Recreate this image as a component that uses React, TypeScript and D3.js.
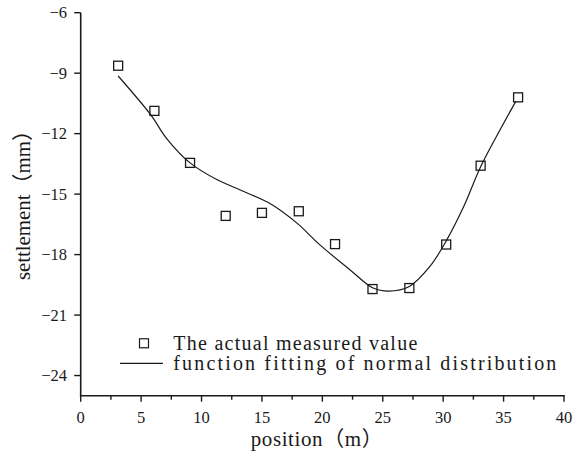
import React from "react";
import * as d3 from "d3";

const measuredX = [3.1, 6.1, 9.05, 12.0, 15.0, 18.05, 21.05, 24.15, 27.2, 30.25, 33.1, 36.2];
const measuredY = [-8.63, -10.87, -13.45, -16.08, -15.93, -15.85, -17.48, -19.71, -19.66, -17.5, -13.59, -10.2];

const fitX = [3.1, 5.8, 7.1, 9.05, 11.3, 13.5, 15.7, 17.9, 19.8, 22.3, 24.2, 25.5, 27.2, 28.9, 30.3, 31.7, 33.1, 34.7, 36.0];
const fitY = [-9.14, -11.07, -12.23, -13.45, -14.29, -14.87, -15.48, -16.44, -17.52, -18.76, -19.66, -19.81, -19.58, -18.59, -17.27, -15.62, -13.64, -11.82, -10.41];

const xTicks = [0, 5, 10, 15, 20, 25, 30, 35, 40];
const xMinorTicks = [2.5, 7.5, 12.5, 17.5, 22.5, 27.5, 32.5, 37.5];
const yTicks = [-24, -21, -18, -15, -12, -9, -6];

const legendLabels = ["The actual measured value", "function fitting of normal distribution"];
const xTitle = "position（m）";
const yTitle = "settlement（mm）";

const W = 583;
const H = 455;
const FONT = "'Liberation Serif', 'Noto Sans CJK SC', serif";
const INK = "#1a1a1a";

export default function App() {
  const x = d3.scaleLinear().domain([0, 40]).range([80.7, 564]);
  const y = d3.scaleLinear().domain([-25, -6]).range([395.7, 12.7]);
  const x0 = x(0);
  const yb = y(-25);

  const fitPts = fitX.map((v, i) => [v, fitY[i]] as [number, number]);
  const line = d3
    .line<[number, number]>()
    .x((d) => x(d[0]))
    .y((d) => y(d[1]))
    .curve(d3.curveCatmullRom.alpha(0.5));

  const fmt = (v: number) => (v < 0 ? "\u2212" + Math.abs(v) : String(v));

  return (
    <svg
      width={W}
      height={H}
      style={{ position: "absolute", left: 0, top: 0, background: "#fff" }}
    >
      <rect width={W} height={H} fill="#fff" />
      <path d={line(fitPts) || ""} fill="none" stroke={INK} strokeWidth={1.2} />
      {measuredX.map((v, i) => (
        <rect
          key={i}
          x={x(v) - 4.5}
          y={y(measuredY[i]) - 4.5}
          width={9}
          height={9}
          fill="none"
          stroke={INK}
          strokeWidth={1.3}
        />
      ))}
      <line x1={x0} x2={x0} y1={y(-6)} y2={yb} stroke={INK} strokeWidth={1.6} />
      <line x1={x0 - 0.8} x2={x(40) + 0.8} y1={yb} y2={yb} stroke={INK} strokeWidth={1.6} />
      {xTicks.map((t) => (
        <g key={"xt" + t}>
          <line x1={x(t)} x2={x(t)} y1={yb} y2={yb + 6} stroke={INK} strokeWidth={1.4} />
          <text x={x(t)} y={422.5} textAnchor="middle" fontFamily={FONT} fontSize={16.5} fill={INK}>
            {fmt(t)}
          </text>
        </g>
      ))}
      {xMinorTicks.map((t) => (
        <line key={"xm" + t} x1={x(t)} x2={x(t)} y1={yb} y2={yb + 4} stroke={INK} strokeWidth={1.4} />
      ))}
      {yTicks.map((t) => (
        <g key={"yt" + t}>
          <line x1={x0 - 6.5} x2={x0} y1={y(t)} y2={y(t)} stroke={INK} strokeWidth={1.4} />
          <text x={67} y={y(t) + 5.5} textAnchor="end" fontFamily={FONT} fontSize={16.5} fill={INK}>
            {fmt(t)}
          </text>
        </g>
      ))}
      <text
        x={250.7}
        y={446}
        fontFamily={FONT}
        fontSize={21}
        fill={INK}
        textLength={132}
        lengthAdjust="spacing"
      >
        {xTitle}
      </text>
      <text
        transform="translate(29.5,280) rotate(-90)"
        fontFamily={FONT}
        fontSize={21}
        fill={INK}
        textLength={160}
        lengthAdjust="spacing"
      >
        {yTitle}
      </text>
      <rect x={139.5} y={338.8} width={9} height={9} fill="none" stroke={INK} strokeWidth={1.2} />
      <line x1={120} x2={163} y1={363.3} y2={363.3} stroke={INK} strokeWidth={1.2} />
      <text
        x={173.3}
        y={350}
        fontFamily={FONT}
        fontSize={20}
        fill={INK}
        textLength={244}
        lengthAdjust="spacing"
      >
        {legendLabels[0]}
      </text>
      <text
        x={173.3}
        y={370}
        fontFamily={FONT}
        fontSize={20}
        fill={INK}
        textLength={383}
        lengthAdjust="spacing"
      >
        {legendLabels[1]}
      </text>
    </svg>
  );
}
